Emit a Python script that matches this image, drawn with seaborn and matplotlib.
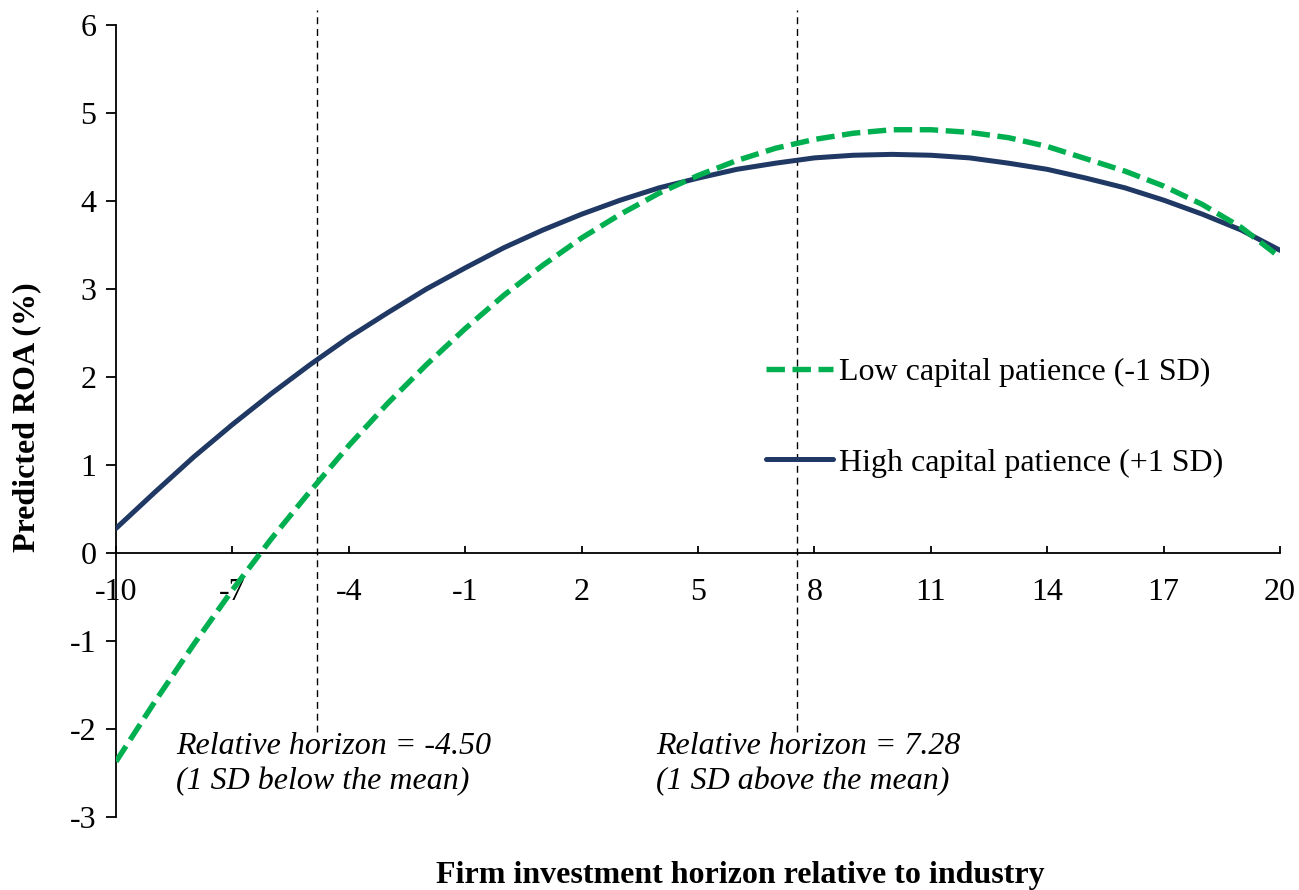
import matplotlib
matplotlib.use("Agg")
import matplotlib.pyplot as plt
import seaborn as sns
import pandas as pd

# datos
horizon = list(range(-10, 21))
roa_low = [-2.37, -1.69, -1.04, -0.42, 0.16, 0.70, 1.22, 1.70, 2.14, 2.55,
           2.93, 3.27, 3.58, 3.85, 4.09, 4.29, 4.46, 4.60, 4.70, 4.77,
           4.81, 4.81, 4.78, 4.72, 4.62, 4.48, 4.34, 4.17, 3.96, 3.70, 3.36]
roa_high = [0.28, 0.69, 1.09, 1.46, 1.81, 2.14, 2.45, 2.73, 3.00, 3.24,
            3.47, 3.67, 3.85, 4.01, 4.15, 4.26, 4.36, 4.43, 4.49, 4.52,
            4.53, 4.52, 4.49, 4.43, 4.36, 4.26, 4.15, 4.01, 3.85, 3.67, 3.44]
series_names = ["Low capital patience (-1 SD)", "High capital patience (+1 SD)"]
ref_lines = [-4.83, 7.56]   # posicion visual de las lineas -4.50 / 7.28
ref_texts = ["Relative horizon = -4.50\n(1 SD below the mean)",
             "Relative horizon = 7.28\n(1 SD above the mean)"]
text_x = [-8.45, 3.92]
x_ticks = list(range(-10, 21, 3))
y_ticks = list(range(-3, 7))

sns.set_theme(style="white")
plt.rcParams["font.family"] = ["Liberation Serif", "DejaVu Serif"]
plt.rcParams["axes.unicode_minus"] = False
plt.rcParams["text.color"] = "black"
plt.rcParams["axes.labelcolor"] = "black"

FS = 23

df = pd.DataFrame({"x": horizon, "low": roa_low, "high": roa_high})

fig = plt.figure(figsize=(12.99, 8.90), dpi=100)
ax = fig.add_axes([0.0893, 0.082, 0.8961, 0.8899])

# Lineas de referencia
for xv in ref_lines:
    ax.plot([xv, xv], [-2.03, 6.17], color="black", lw=1.0,
            dashes=(5, 3.5), clip_on=False, zorder=1)

sns.lineplot(data=df, x="x", y="high", ax=ax, color="#1F3864", lw=3.6,
             label=series_names[1], zorder=3)
sns.lineplot(data=df, x="x", y="low", ax=ax, color="#00B050", lw=3.9,
             label=series_names[0], zorder=4)
ax.lines[-1].set_dashes([3.4, 1.4])

ax.set_xlim(-10, 20)
ax.set_ylim(-3, 6)
ax.set_xticks(x_ticks)
ax.set_yticks(y_ticks)

for s in ["top", "right"]:
    ax.spines[s].set_visible(False)
ax.spines["bottom"].set_position(("data", 0))
for s in ["left", "bottom"]:
    ax.spines[s].set_color("black")
    ax.spines[s].set_linewidth(1.3)

ax.tick_params(axis="x", direction="in", length=5, width=1.3, pad=18,
               labelsize=FS, colors="black", bottom=True)
ax.tick_params(axis="y", direction="out", length=7, width=1.3, pad=7,
               labelsize=FS, colors="black", left=True)

ax.set_xlabel("Firm investment horizon relative to industry",
              fontsize=FS, fontweight="bold", color="black")
ax.set_ylabel("Predicted ROA (%)", fontsize=FS, fontweight="bold",
              color="black")
ax.xaxis.set_label_coords(0.536, -0.055)
ax.yaxis.set_label_coords(-0.064, 0.505)

for tx, t in zip(text_x, ref_texts):
    ax.text(tx, -2.03, t, fontsize=FS, style="italic", va="top", ha="left",
            linespacing=1.3, color="black")

h, l = ax.get_legend_handles_labels()
leg = ax.legend(h[::-1], l[::-1], loc="center left",
                bbox_to_anchor=(0.558, 0.504), frameon=False, fontsize=FS,
                handlelength=2.1, handletextpad=0.2, labelspacing=1.9,
                borderpad=0, borderaxespad=0)
for t in leg.get_texts():
    t.set_color("black")

fig.savefig("out.png", dpi=100)
